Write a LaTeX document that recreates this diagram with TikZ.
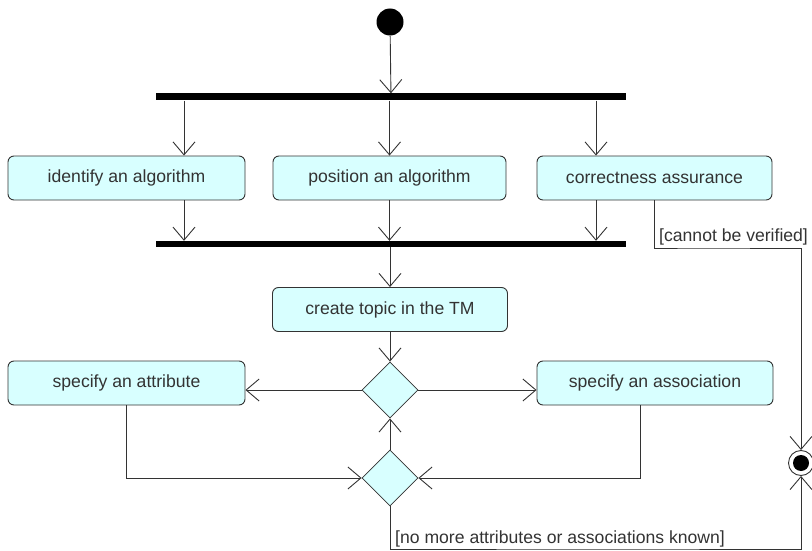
\documentclass[tikz,border=0pt]{standalone}
\usepackage{fontspec}
\setmainfont{Liberation Sans}
\usetikzlibrary{arrows.meta,shapes.geometric}
\definecolor{actfill}{HTML}{D8FFFF}
\definecolor{ink}{HTML}{333333}
\begin{document}
\begin{tikzpicture}[x=1pt,y=-1pt,
  font=\fontsize{17.6}{20}\selectfont,
  action/.style={draw=ink, fill=actfill, rounded corners=6pt, line width=0.9pt,
                 minimum height=44pt, text=ink, inner sep=0pt},
  bar/.style={fill=black, inner sep=0pt, minimum width=470pt, minimum height=7pt},
  decision/.style={diamond, draw=ink, fill=actfill, line width=0.8pt,
                   minimum width=56pt, minimum height=56pt, inner sep=0pt},
  flow/.style={draw=ink, line width=0.9pt},
  arr/.style={flow, -{Straight Barb[length=13pt,width=22pt]}},
  guard/.style={text=ink, inner sep=0pt, anchor=base west}]
\useasboundingbox (0,0) rectangle (812,551);

% initial node, fork and join bars
\node[circle, fill=black, minimum size=27pt, inner sep=0pt] (start) at (390,22) {};
\node[bar] (fork) at (391,97) {};
\node[bar, minimum height=6pt] (join) at (391,244) {};

% actions
\node[action, minimum width=237pt] (ident) at (126.5,178) {identify an algorithm};
\node[action, minimum width=233pt] (pos)   at (389.5,178) {position an algorithm};
\node[action, minimum width=235pt] (corr)  at (654.5,178) {correctness assurance};
\node[action, minimum width=235pt] (topic) at (390,309.5) {create topic in the TM};
\node[action, minimum width=237pt] (attr)  at (126.5,383) {specify an attribute};
\node[action, minimum width=236pt] (assoc) at (655,383) {specify an association};

% decision / merge nodes
\node[decision] (d1) at (390,390) {};
\node[decision] (d2) at (390,478) {};

% final node
\node[circle, draw=ink, line width=0.9pt, fill=white, minimum size=25pt, inner sep=0pt] (end) at (801,463) {};
\node[circle, fill=black, minimum size=16pt, inner sep=0pt] (endcore) at (end) {};

% helper coordinates for branch positions and bends
\coordinate (xa) at (184,0);
\coordinate (xc) at (596,0);
\coordinate (xs) at (640,0);
\coordinate (tA) at (700,248);
\coordinate (tB) at (600,549);

% control flow
\draw[arr] (start) -- (fork);
\draw[arr] (fork.south -| xa) -- (ident.north -| xa);
\draw[arr] (fork.south -| pos) -- (pos.north);
\draw[arr] (fork.south -| xc) -- (corr.north -| xc);
\draw[arr] (ident.south -| xa) -- (join.north -| xa);
\draw[arr] (pos.south) -- (join.north -| pos);
\draw[arr] (corr.south -| xc) -- (join.north -| xc);
\draw[arr] (join.south -| topic) -- (topic.north);
\draw[arr] (topic) -- (d1);
\draw[arr] (d1.west) -- (d1.west -| attr.east);
\draw[arr] (d1.east) -- (d1.east -| assoc.west);
\draw[arr] (attr) |- (d2);
\draw[arr] (assoc.south -| xs) |- (d2.east);
\draw[arr] (d2) -- (d1);
\draw[arr] (corr.south) |- (tA) -| (end);
\draw[arr] (d2) |- (tB) -| (end);

% guards
\node[guard] (g1) at (659,241) {[cannot be verified]};
\node[guard] (g2) at (395,543) {[no more attributes or associations known]};
\end{tikzpicture}
\end{document}
